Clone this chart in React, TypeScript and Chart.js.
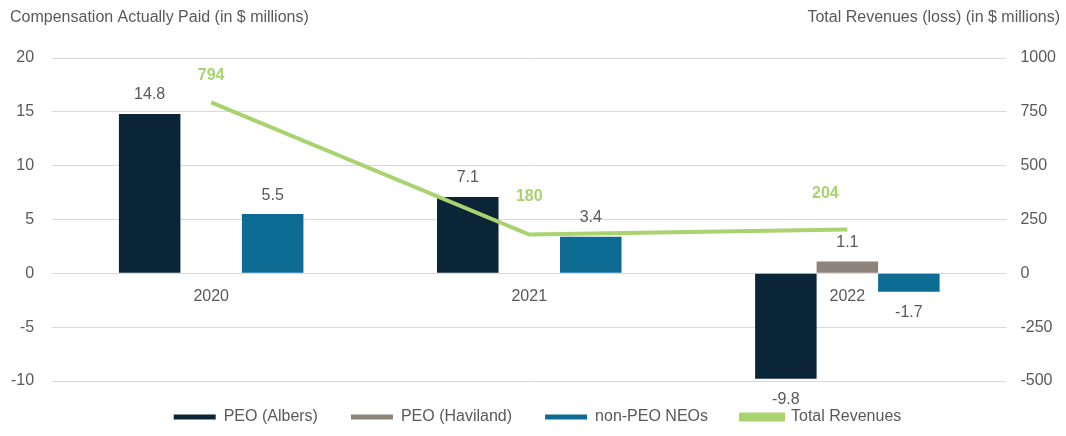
import React, { useEffect, useRef } from "react";
import { Chart, registerables } from "chart.js";

Chart.register(...registerables);

// ---- Data ----
const categories = ["2020", "2021", "2022"];
const peoAlbers: (number | null)[] = [14.8, 7.1, -9.8];
const peoHaviland: (number | null)[] = [null, null, 1.1];
const nonPeoNeos: (number | null)[] = [5.5, 3.4, -1.7];
const totalRevenues: number[] = [794, 180, 204];

const leftAxisTitle = "Compensation Actually Paid (in $ millions)";
const rightAxisTitle = "Total Revenues (loss) (in $ millions)";
const seriesNames = ["PEO (Albers)", "PEO (Haviland)", "non-PEO NEOs", "Total Revenues"];

// ---- Styles ----
const FONT = '"Liberation Sans", Arial, Helvetica, sans-serif';
const TEXT = "#595959";
const GRID = "#d9d9d9";
const C_ALBERS = "#0b2538";
const C_HAVILAND = "#8c847b";
const C_NEOS = "#0e6b94";
const C_REV = "#a8d36f";
// label offsets (px) relative to each revenue point
const revLabelOffsets: [number, number][] = [
  [0, -27],
  [0, -38],
  [-22, -36],
];

const valueLabels = {
  id: "valueLabels",
  afterDatasetsDraw(chart: any) {
    const ctx = chart.ctx;
    ctx.save();
    ctx.textAlign = "center";
    ctx.textBaseline = "middle";
    chart.data.datasets.forEach((ds: any, i: number) => {
      const meta = chart.getDatasetMeta(i);
      if (meta.hidden) return;
      meta.data.forEach((el: any, j: number) => {
        const v = ds.data[j];
        if (v === null || v === undefined) return;
        if (meta.type === "bar") {
          ctx.font = `16px ${FONT}`;
          ctx.fillStyle = TEXT;
          const y = v >= 0 ? el.y - 19 : el.y + 21;
          ctx.fillText(v.toFixed(1), el.x, y);
        } else {
          ctx.font = `bold 16px ${FONT}`;
          ctx.fillStyle = C_REV;
          const [dx, dy] = revLabelOffsets[j] || [0, -30];
          ctx.fillText(String(v), el.x + dx, el.y + dy);
        }
      });
    });
    ctx.restore();
  },
};

const axisTitles = {
  id: "axisTitles",
  afterDraw(chart: any) {
    const ctx = chart.ctx;
    ctx.save();
    ctx.font = `16px ${FONT}`;
    ctx.fillStyle = TEXT;
    ctx.textBaseline = "middle";
    ctx.textAlign = "left";
    ctx.fillText(leftAxisTitle, 10, 18);
    ctx.textAlign = "right";
    ctx.fillText(rightAxisTitle, chart.width - 6, 18);
    ctx.restore();
  },
};

// nudges the legend row a little after layout
const legendShift = {
  id: "legendShift",
  afterLayout(chart: any) {
    const lg = chart.legend;
    if (lg) {
      lg.top -= 5;
      lg.bottom -= 5;
      lg.left += 4;
      lg.right += 4;
    }
  },
};

// Chart.js reserves the tick padding twice for vertical axes; keep it once
const trimPadding = (scale: any) => {
  scale.width -= scale.options.ticks.padding;
};

export default function App() {
  const ref = useRef<HTMLCanvasElement | null>(null);

  useEffect(() => {
    if (!ref.current) return;
    Chart.defaults.font.family = FONT;
    Chart.defaults.font.size = 16;
    Chart.defaults.color = TEXT;

    const chart = new Chart(ref.current, {
      type: "bar",
      data: {
        labels: categories,
        datasets: [
          { type: "bar", label: seriesNames[0], data: peoAlbers, backgroundColor: C_ALBERS, yAxisID: "y", order: 2 },
          { type: "bar", label: seriesNames[1], data: peoHaviland, backgroundColor: C_HAVILAND, yAxisID: "y", order: 2 },
          { type: "bar", label: seriesNames[2], data: nonPeoNeos, backgroundColor: C_NEOS, yAxisID: "y", order: 2 },
          {
            type: "line",
            label: seriesNames[3],
            data: totalRevenues,
            borderColor: C_REV,
            backgroundColor: C_REV,
            borderWidth: 4,
            pointRadius: 0,
            tension: 0,
            yAxisID: "y1",
            order: 1,
          },
        ] as any,
      },
      options: {
        responsive: false,
        animation: false,
        maintainAspectRatio: false,
        datasets: { bar: { categoryPercentage: 0.58, barPercentage: 1.0 } } as any,
        layout: { padding: { top: 58, left: 11, right: 10, bottom: 0 } },
        plugins: {
          legend: {
            position: "bottom",
            maxHeight: 55,
            labels: {
              boxWidth: 42,
              boxHeight: 5,
              padding: 33,
              color: TEXT,
              font: { size: 16, family: FONT },
              sort: (a: any, b: any) => a.datasetIndex - b.datasetIndex,
            },
          },
          tooltip: { enabled: false },
          title: { display: false },
        },
        scales: {
          x: {
            position: { y: 0 } as any,
            grid: { display: false, drawTicks: false },
            border: { display: false },
            ticks: { padding: 14, color: TEXT, font: { size: 16 } },
            afterFit: (scale: any) => {
              scale.paddingLeft = 0;
              scale.paddingRight = 0;
            },
          },
          y: {
            position: "left",
            min: -10,
            max: 20,
            ticks: { stepSize: 5, padding: 18, color: TEXT, font: { size: 16 } },
            grid: { color: GRID, drawTicks: false, lineWidth: 1 },
            border: { display: false },
            afterFit: trimPadding,
          },
          y1: {
            position: "right",
            min: -500,
            max: 1000,
            ticks: { stepSize: 250, padding: 14, color: TEXT, font: { size: 16 }, callback: (v: any) => String(v) },
            grid: { display: false, drawTicks: false },
            border: { display: false },
            afterFit: trimPadding,
          },
        },
      } as any,
      plugins: [valueLabels, axisTitles, legendShift],
    });
    return () => chart.destroy();
  }, []);

  return (
    <div style={{ position: "absolute", left: 0, top: 0, width: 1066, height: 436, background: "#fff" }}>
      <canvas ref={ref} width={1066} height={436} style={{ display: "block" }} />
    </div>
  );
}
